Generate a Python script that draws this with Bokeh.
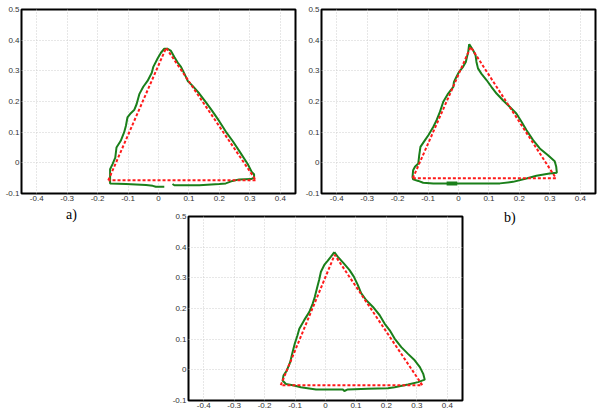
from bokeh.plotting import figure
from bokeh.layouts import column, row
from bokeh.models import FixedTicker, Range1d, Div
from bokeh.embed import file_html
from bokeh.resources import INLINE

x_ticks = [-0.4, -0.3, -0.2, -0.1, 0, 0.1, 0.2, 0.3, 0.4]
x_tick_labels = ["-0.4", "-0.3", "-0.2", "-0.1", "0", "0.1", "0.2", "0.3", "0.4"]
y_ticks = [-0.1, 0, 0.1, 0.2, 0.3, 0.4, 0.5]
y_tick_labels = ["-0.1", "0", "0.1", "0.2", "0.3", "0.4", "0.5"]

# reference (desired) triangles
ref_a_x = [-0.165, 0.025, 0.32, -0.165]
ref_a_y = [-0.057, 0.375, -0.057, -0.057]
ref_b_x = [-0.15, 0.04, 0.32, -0.15]
ref_b_y = [-0.05, 0.378, -0.05, -0.05]
ref_c_x = [-0.147, 0.03, 0.318, -0.147]
ref_c_y = [-0.05, 0.375, -0.05, -0.05]

# measured trajectories
traj_a_x = [0.046, 0.052, 0.134, 0.200, 0.221, 0.243, 0.265, 0.304, 0.314, 0.314, 0.307,
            0.293, 0.265, 0.243, 0.221, 0.200, 0.178, 0.156, 0.134, 0.112, 0.096, 0.085,
            0.074, 0.063, 0.052, 0.041, 0.030, 0.019, 0.008, -0.003, -0.017, -0.022, -0.036,
            -0.050, -0.063, -0.072, -0.080, -0.091, -0.102, -0.107, -0.113, -0.124, -0.138,
            -0.142, -0.151, -0.159, -0.159, -0.107, -0.041, -0.019, -0.009, 0.019]
traj_a_y = [-0.069, -0.073, -0.073, -0.069, -0.067, -0.059, -0.054, -0.053, -0.048, -0.037, -0.031,
            -0.004, 0.039, 0.072, 0.102, 0.135, 0.167, 0.197, 0.226, 0.251, 0.267, 0.291,
            0.313, 0.327, 0.345, 0.365, 0.372, 0.372, 0.359, 0.340, 0.313, 0.294, 0.267,
            0.248, 0.224, 0.191, 0.172, 0.162, 0.148, 0.121, 0.099, 0.072, 0.050,
            0.017, -0.004, -0.021, -0.067, -0.069, -0.072, -0.075, -0.078, -0.078]

traj_b_x = [0.035, 0.048, 0.056, 0.059, 0.064, 0.075, 0.092, 0.108, 0.125, 0.146, 0.168,
            0.190, 0.207, 0.223, 0.245, 0.267, 0.294, 0.316, 0.321, 0.323, 0.299, 0.256,
            0.223, 0.179, 0.136, 0.070, 0.004, -0.039, -0.083, -0.116, -0.132, -0.149,
            -0.151, -0.149, -0.143, -0.132, -0.129, -0.125, -0.110, -0.099, -0.083, -0.072,
            -0.061, -0.050, -0.034, -0.017, -0.015, -0.007, 0.002, 0.015, 0.024, 0.028,
            0.032, 0.035]
traj_b_y = [0.387, 0.367, 0.351, 0.329, 0.308, 0.291, 0.270, 0.248, 0.226, 0.204, 0.183,
            0.161, 0.134, 0.107, 0.074, 0.047, 0.025, 0.005, -0.013, -0.032, -0.035, -0.042,
            -0.051, -0.062, -0.067, -0.067, -0.067, -0.067, -0.067, -0.065, -0.059, -0.054,
            -0.046, -0.024, -0.013, -0.002, 0.025, 0.052, 0.074, 0.090, 0.117, 0.139,
            0.166, 0.199, 0.226, 0.248, 0.264, 0.280, 0.297, 0.313, 0.329, 0.346,
            0.362, 0.387]
start_b_x = [-0.039, -0.004]
start_b_y = [-0.067, -0.067]

traj_c_x = [0.029, 0.040, 0.060, 0.079, 0.093, 0.106, 0.117, 0.134, 0.156, 0.178, 0.194,
            0.211, 0.227, 0.249, 0.271, 0.293, 0.310, 0.321, 0.326, 0.304, 0.271, 0.227,
            0.205, 0.139, 0.073, 0.062, 0.057, 0.007, -0.031, -0.059, -0.081, -0.103,
            -0.130, -0.141, -0.138, -0.127, -0.116, -0.108, -0.101, -0.092, -0.086, -0.070,
            -0.053, -0.042, -0.035, -0.028, -0.021, -0.015, -0.004, 0.007, 0.018, 0.029]
traj_c_y = [0.384, 0.369, 0.347, 0.325, 0.304, 0.277, 0.250, 0.227, 0.205, 0.178, 0.151,
            0.129, 0.102, 0.074, 0.052, 0.031, 0.009, -0.013, -0.032, -0.040, -0.048, -0.057,
            -0.060, -0.062, -0.064, -0.069, -0.064, -0.064, -0.064, -0.060, -0.057, -0.051,
            -0.046, -0.035, -0.019, -0.002, 0.025, 0.058, 0.085, 0.113, 0.134, 0.162,
            0.189, 0.216, 0.238, 0.266, 0.293, 0.320, 0.342, 0.355, 0.369, 0.384]

panel_labels = ["a)", "b)"]

GREEN = "#1a7f1a"
RED = "#ff1a1a"


def make_fig(width, height, mbl, mbr, mbt, mbb):
    p = figure(width=width, height=height, x_range=Range1d(-0.45, 0.45),
               y_range=Range1d(-0.1, 0.5), output_backend="svg", toolbar_location=None,
               min_border_left=mbl, min_border_right=mbr, min_border_top=mbt,
               min_border_bottom=mbb)
    p.outline_line_color = "black"
    p.outline_line_width = 2
    p.outline_line_alpha = 1
    p.border_fill_color = "white"
    p.background_fill_color = "white"
    p.xaxis.ticker = FixedTicker(ticks=x_ticks)
    p.yaxis.ticker = FixedTicker(ticks=y_ticks)
    p.xaxis.major_label_overrides = dict(zip(x_ticks, x_tick_labels))
    p.yaxis.major_label_overrides = dict(zip(y_ticks, y_tick_labels))
    for ax in (p.xaxis, p.yaxis):
        ax.axis_line_color = None
        ax.major_tick_line_color = None
        ax.minor_tick_line_color = None
        ax.major_tick_out = 0
        ax.major_tick_in = 0
        ax.minor_tick_out = 0
        ax.minor_tick_in = 0
        ax.major_label_text_font = "Liberation Sans"
        ax.major_label_text_font_size = "8px"
        ax.major_label_text_color = "#333333"
        ax.major_label_standoff = 2
    p.grid.grid_line_color = "#cfcfcf"
    p.grid.grid_line_dash = "1 2"
    p.grid.grid_line_width = 1
    return p


# top-left panel: canvas x 0..300, frame 21..295, y 9..193
pa = make_fig(300, 205, 21, 5, 9, 12)
pa.line(traj_a_x, traj_a_y, color=GREEN, line_width=2)
pa.line(ref_a_x, ref_a_y, color=RED, line_width=2, line_dash="3 2")

# top-right panel: canvas x 300..600, frame 321..595
pb = make_fig(300, 205, 21, 5, 9, 12)
pb.line(traj_b_x, traj_b_y, color=GREEN, line_width=2)
pb.line(start_b_x, start_b_y, color=GREEN, line_width=4)
pb.line(ref_b_x, ref_b_y, color=RED, line_width=2, line_dash="3 2")

# bottom panel: canvas x 157..460, frame 178..452, y 216..400
pc = make_fig(303, 207, 21, 8, 11, 12)
pc.line(traj_c_x, traj_c_y, color=GREEN, line_width=2)
pc.line(ref_c_x, ref_c_y, color=RED, line_width=2, line_dash="3 2")

label_style = ("position:relative; font-family:'Liberation Serif'; font-size:14px; "
               "line-height:14px; color:black;")
div_a = Div(text='<span style="%s left:61px; top:-3px;">%s</span>' % (label_style, panel_labels[0]),
            width=157, height=30)
div_b = Div(text='<span style="%s left:29px; top:0px;">%s</span>' % (label_style, panel_labels[1]),
            width=140, height=30)

layout = column(row(pa, pb), row(div_a, pc, div_b))

open("out.html", "w").write(file_html(layout, INLINE))
